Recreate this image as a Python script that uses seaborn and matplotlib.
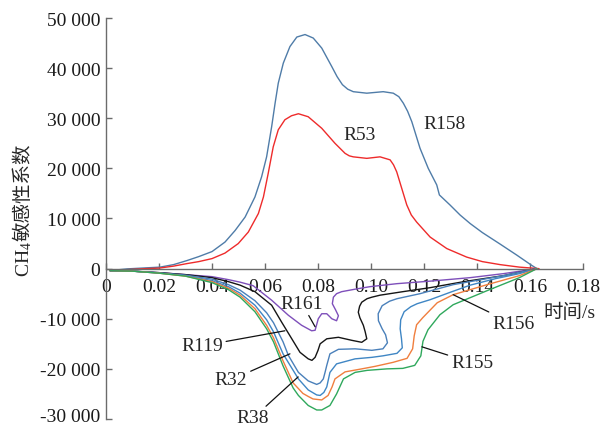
import matplotlib
matplotlib.use("Agg")
import matplotlib.pyplot as plt
import matplotlib.ticker as mticker
import matplotlib.transforms as mtransforms
import seaborn as sns

# ---- data (time in s, CH4 sensitivity coefficient) ----
r158_t = [0.0015, 0.008, 0.015, 0.0204, 0.0255, 0.0305, 0.035, 0.04, 0.0449, 0.0487, 0.0525,
          0.0562, 0.0587, 0.0606, 0.0625, 0.0638, 0.065, 0.0669, 0.0694, 0.072, 0.0751, 0.0782,
          0.0814, 0.0852, 0.0872, 0.0892, 0.0912, 0.0933, 0.0984, 0.1046, 0.1084, 0.1105, 0.1122,
          0.1138, 0.1154, 0.1185, 0.1216, 0.1248, 0.1258, 0.1298, 0.1336, 0.1374, 0.142, 0.1487,
          0.155, 0.1605, 0.1626]
r158_s = [-400, -50, 150, 300, 800, 1600, 2400, 3400, 5300, 7600, 10300,
          14300, 18300, 22300, 28300, 33000, 37000, 41000, 44300, 46200, 46700, 46000,
          44000, 40300, 38300, 36700, 35800, 35300, 35000, 35300, 35000, 34300, 33000,
          31400, 29300, 24000, 20000, 16700, 14700, 12700, 10700, 9000, 7200, 4900,
          2700, 700, 0]

r53_t = [0.0015, 0.008, 0.015, 0.02, 0.0255, 0.0305, 0.035, 0.04, 0.0449, 0.0499, 0.0537,
         0.0575, 0.0594, 0.0612, 0.0631, 0.065, 0.0675, 0.070, 0.0726, 0.0763, 0.0814, 0.0864,
         0.0902, 0.0918, 0.0933, 0.0984, 0.1034, 0.1072, 0.1085, 0.1097, 0.1116, 0.1135, 0.1152,
         0.1172, 0.1223, 0.1286, 0.1361, 0.142, 0.1487, 0.156, 0.1634]
r53_s = [-400, -200, 0, 100, 500, 1000, 1400, 2000, 3100, 5000, 7300,
         11000, 14300, 19000, 24300, 27700, 29700, 30500, 30900, 30300, 28000, 25000,
         23000, 22500, 22300, 22000, 22300, 21700, 20700, 19300, 16000, 12700, 10700,
         9300, 6300, 4000, 2300, 1400, 800, 300, 0]

r161_t = [0.0015, 0.01, 0.02, 0.03, 0.04, 0.0462, 0.0506, 0.0555, 0.0625, 0.0688, 0.0738,
          0.0776, 0.0789, 0.0801, 0.0814, 0.0833, 0.0852, 0.087, 0.0877, 0.0866, 0.0854, 0.0858,
          0.087, 0.0889, 0.094, 0.0996, 0.1098, 0.1223, 0.1374, 0.150, 0.1626]
r161_s = [-400, -500, -800, -1200, -1600, -2200, -2700, -3400, -6300, -9300, -11300,
          -12400, -12300, -10000, -9000, -9000, -10000, -10400, -9400, -8200, -7000, -5700,
          -5000, -4600, -4100, -3600, -3000, -2500, -1800, -1000, 0]

r119_t = [0.0015, 0.01, 0.02, 0.03, 0.04, 0.0462, 0.0506, 0.0562, 0.0625, 0.0663, 0.0701,
          0.0732, 0.0763, 0.0777, 0.0789, 0.080, 0.0808, 0.0833, 0.0877, 0.0927, 0.0965, 0.0984,
          0.0978, 0.0971, 0.0958, 0.0952, 0.0957, 0.0965, 0.0985, 0.1003, 0.1034, 0.112, 0.1223,
          0.135, 0.150, 0.1626]
r119_s = [-400, -500, -800, -1200, -1800, -2600, -3300, -4600, -7300, -10700, -14000,
          -16700, -18000, -18300, -17700, -16300, -15000, -14000, -13700, -14300, -14700, -14000,
          -12600, -11300, -9800, -8700, -7500, -6700, -6000, -5700, -5300, -4600, -3800,
          -2600, -1400, 0]

r32_t = [0.0015, 0.01, 0.02, 0.03, 0.04, 0.0462, 0.0506, 0.0562, 0.0606, 0.0632, 0.0668,
         0.0688, 0.0726, 0.0763, 0.0795, 0.0808, 0.082, 0.0827, 0.0833, 0.0845, 0.0877, 0.094,
         0.1003, 0.1045, 0.1062, 0.1055, 0.1042, 0.1028, 0.1027, 0.1042, 0.107, 0.1098, 0.1185,
         0.131, 0.150, 0.1626]
r32_s = [-400, -500, -850, -1300, -2100, -3200, -4300, -6400, -8800, -10800, -14600,
         -17300, -20700, -22400, -23100, -22800, -22000, -20600, -19300, -17000, -16100, -16000,
         -16300, -16000, -14800, -13200, -12000, -10400, -9000, -7400, -6500, -6000, -5000,
         -3200, -1400, 0]

r156_t = [0.0015, 0.01, 0.02, 0.03, 0.04, 0.0462, 0.0506, 0.0562, 0.0606, 0.0632, 0.0668,
          0.0726, 0.0763, 0.0795, 0.0808, 0.0822, 0.0833, 0.0845, 0.087, 0.094, 0.1003, 0.1045,
          0.1098, 0.1118, 0.1115, 0.111, 0.1112, 0.1125, 0.115, 0.1174, 0.1223, 0.130, 0.1374,
          0.147, 0.156, 0.1626]
r156_s = [-400, -500, -900, -1400, -2400, -3600, -4900, -7300, -10200, -12600, -17000,
          -22000, -24200, -25200, -25300, -24700, -23600, -20700, -19000, -18000, -17700, -17400,
          -16900, -15800, -14000, -12000, -10200, -8600, -7600, -7000, -6200, -4700, -3300,
          -2000, -1000, 0]

r38_t = [0.0015, 0.01, 0.02, 0.03, 0.04, 0.0462, 0.0506, 0.0562, 0.0606, 0.0632, 0.0668,
         0.0706, 0.0743, 0.0763, 0.0781, 0.0814, 0.0838, 0.0853, 0.0864, 0.0902, 0.0965, 0.1015,
         0.1083, 0.1136, 0.1157, 0.1163, 0.1172, 0.1195, 0.125, 0.131, 0.1438, 0.156, 0.1626]
r38_s = [-400, -500, -900, -1500, -2600, -3900, -5300, -8000, -11300, -13800, -18400,
         -22800, -24900, -25500, -26000, -26200, -25300, -23600, -22000, -20600, -20000, -19500,
         -18700, -17900, -16000, -13400, -11200, -9800, -6800, -5200, -3200, -1400, 0]

r155_t = [0.0015, 0.01, 0.02, 0.03, 0.04, 0.0462, 0.0506, 0.0562, 0.0606, 0.0632, 0.0668,
          0.0706, 0.0726, 0.0763, 0.0795, 0.0814, 0.0845, 0.087, 0.0896, 0.094, 0.0985, 0.106,
          0.112, 0.1165, 0.1188, 0.1196, 0.1215, 0.126, 0.131, 0.1438, 0.156, 0.1626]
r155_s = [-400, -500, -900, -1500, -2800, -4200, -5700, -8600, -12000, -14600, -19400,
          -23800, -25300, -27300, -28200, -28200, -27300, -25000, -22000, -20700, -20300, -20000,
          -19900, -19300, -17400, -14500, -12200, -9200, -7200, -4400, -1800, 0]

x_ticks = [0, 0.02, 0.04, 0.06, 0.08, 0.10, 0.12, 0.14, 0.16, 0.18]
y_ticks = [-30000, -20000, -10000, 0, 10000, 20000, 30000, 40000, 50000]

curves = [
    ("R158", r158_t, r158_s, "#4f7ca8"),
    ("R53", r53_t, r53_s, "#ee2b2b"),
    ("R161", r161_t, r161_s, "#7e4fba"),
    ("R119", r119_t, r119_s, "#151515"),
    ("R32", r32_t, r32_s, "#4a80ba"),
    ("R156", r156_t, r156_s, "#3f86c4"),
    ("R38", r38_t, r38_s, "#f07e3e"),
    ("R155", r155_t, r155_s, "#2fa85c"),
]

sns.set_style("ticks")
plt.rcParams['font.family'] = ['Liberation Serif', 'Noto Sans CJK SC']
plt.rcParams['mathtext.fontset'] = 'custom'
plt.rcParams['mathtext.rm'] = 'Liberation Serif'
plt.rcParams['mathtext.it'] = 'Liberation Serif:italic'

fig = plt.figure(figsize=(6, 4.27), dpi=100)
ax = fig.add_axes([0.1767, 0.0164, 0.795, 0.9391])

for name, t, s, col in curves:
    sns.lineplot(x=t, y=s, ax=ax, color=col, linewidth=1.0, sort=False, estimator=None)

ax.set_xlim(0, 0.18)
ax.set_ylim(-30000, 50000)
ax.set_xticks(x_ticks)
ax.set_yticks(y_ticks)
ax.xaxis.set_major_formatter(mticker.FuncFormatter(lambda v, p: "0" if abs(v) < 1e-9 else f"{v:.2f}"))
ax.yaxis.set_major_formatter(mticker.FuncFormatter(lambda v, p: f"{v:,.0f}".replace(",", " ")))

spine_col = "#6b6b6b"
for side in ["top", "right"]:
    ax.spines[side].set_visible(False)
ax.spines["bottom"].set_position(("data", 0))
for side in ["left", "bottom"]:
    ax.spines[side].set_color(spine_col)
    ax.spines[side].set_linewidth(1.0)
ax.tick_params(axis="both", direction="in", length=4, width=1.0, color=spine_col,
               labelsize=14, labelcolor="#1a1a1a")
ax.tick_params(axis="x", pad=7)
ax.tick_params(axis="y", pad=4)
ax.set_xlabel("")
ax.set_ylabel("")

# curve labels
ax.text(0.1279, 29000, "R158", fontsize=14, ha="center", va="center")
ax.text(0.0958, 26800, "R53", fontsize=14, ha="center", va="center")

leaders = [
    ("R161", (0.0789, -11600), (0.0740, -7000)),
    ("R119", (0.0675, -12400), (0.0362, -15400)),
    ("R32", (0.0694, -17000), (0.0472, -22200)),
    ("R38", (0.0725, -21600), (0.0555, -29800)),
    ("R156", (0.1310, -5200), (0.1536, -11000)),
    ("R155", (0.1192, -15600), (0.1381, -18800)),
]
for lab, tgt, pos in leaders:
    ax.annotate(lab, xy=tgt, xytext=pos, fontsize=14, ha="center", va="center",
                arrowprops=dict(arrowstyle="-", color="#111111", lw=0.9, shrinkA=0, shrinkB=0))

ax.text(0.1747, -8600, "时间/s", fontsize=14, ha="center", va="center")

# y axis label: CH4 + Chinese, stacked bottom-to-top
t1 = fig.text(24 / 600, 1 - 277 / 427, "CH$_4$", rotation=90, fontsize=14,
              ha="center", va="bottom")
fig.canvas.draw()
bb = t1.get_window_extent()
fig.text(23.5 / 600, bb.y1 / fig.bbox.height, "敏感性系数", rotation=90, fontsize=14,
         ha="center", va="bottom")

# lift the lowest y tick label a little so it stays inside the figure
low = ax.get_yticklabels()[0]
low.set_transform(low.get_transform() + mtransforms.ScaledTranslation(0, 3 / 72, fig.dpi_scale_trans))

fig.savefig("out.png", dpi=100)
plt.close(fig)
